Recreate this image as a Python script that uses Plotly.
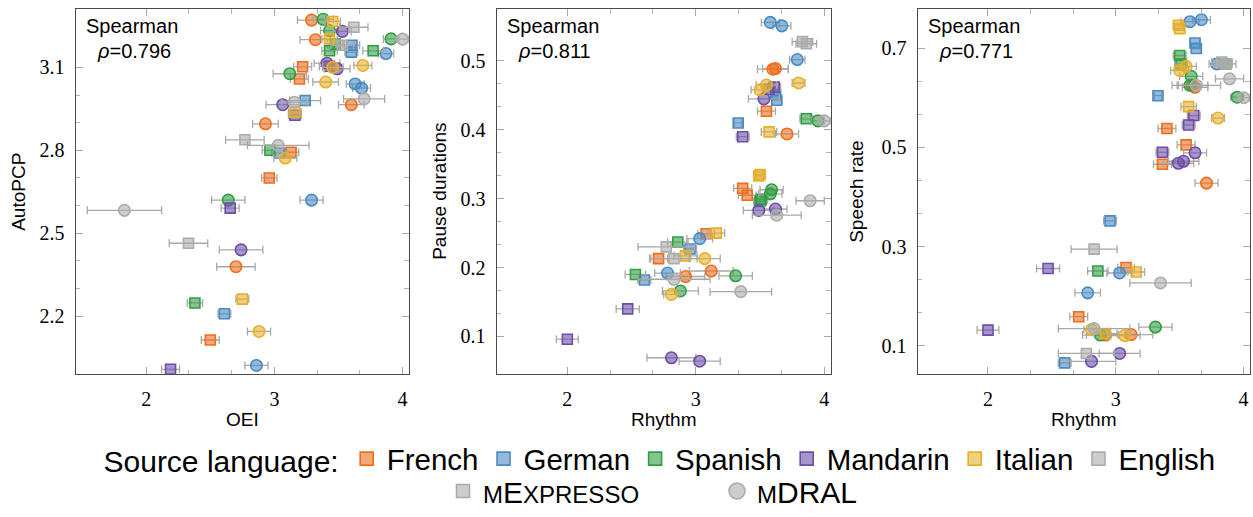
import plotly.graph_objects as go

# ---------------- data ----------------
LANGS = ["French", "German", "Spanish", "Mandarin", "Italian", "English"]
SETS = ["S", "C"]  # S = mExpresso (square), C = mDRAL (circle)

# Panel 1: OEI vs AutoPCP
p1_lang = ["French", "Spanish", "Italian", "English", "Spanish", "Mandarin", "French", "Italian",
           "Spanish", "English", "Spanish", "English", "German", "German", "Spanish", "Spanish",
           "German", "Mandarin", "Mandarin", "Italian", "Mandarin", "French", "Italian", "Spanish",
           "French", "Italian", "German", "German", "Mandarin", "English", "German", "English",
           "French", "Italian", "Mandarin", "French", "English", "English", "Spanish", "German",
           "French", "Italian", "French", "Spanish", "German", "English", "Mandarin", "English",
           "Mandarin", "French", "Spanish", "Italian", "German", "Italian", "French", "German",
           "Mandarin"]
p1_set = ["C", "C", "S", "S", "C", "C", "C", "S",
          "C", "C", "S", "S", "S", "S", "S", "S",
          "C", "C", "S", "C", "C", "S", "C", "C",
          "S", "C", "C", "C", "C", "C", "S", "C",
          "C", "S", "S", "C", "S", "C", "S", "S",
          "S", "C", "S", "C", "C", "C", "S", "S",
          "C", "C", "S", "S", "S", "C", "S", "C",
          "S"]
p1_oei = [3.29, 3.38, 3.455, 3.62, 3.43, 3.53, 3.32, 3.43,
          3.91, 4.00, 3.475, 3.53, 3.605, 3.60, 3.43, 3.77,
          3.87, 3.41, 3.43, 3.455, 3.49, 3.22, 3.69, 3.12,
          3.195, 3.40, 3.63, 3.68, 3.065, 3.155, 3.24, 3.70,
          3.60, 3.16, 3.16, 2.93, 2.77, 3.03, 2.965, 3.04,
          3.13, 3.085, 2.96, 2.64, 3.29, 1.83, 2.655, 2.33,
          2.74, 2.70, 2.38, 2.75, 2.61, 2.88, 2.50, 2.86,
          2.19]
p1_oei_err = [0.11, 0.08, 0.06, 0.11, 0.07, 0.07, 0.12, 0.06,
              0.06, 0.05, 0.06, 0.09, 0.06, 0.05, 0.06, 0.08,
              0.06, 0.10, 0.08, 0.08, 0.10, 0.07, 0.07, 0.13,
              0.07, 0.10, 0.07, 0.07, 0.13, 0.10, 0.12, 0.16,
              0.10, 0.05, 0.05, 0.10, 0.15, 0.24, 0.06, 0.06,
              0.06, 0.09, 0.06, 0.13, 0.09, 0.29, 0.07, 0.15,
              0.17, 0.15, 0.06, 0.05, 0.05, 0.09, 0.07, 0.09,
              0.07]
p1_autopcp = [3.271, 3.274, 3.266, 3.245, 3.233, 3.230, 3.200, 3.203,
              3.203, 3.202, 3.184, 3.180, 3.180, 3.155, 3.160, 3.160,
              3.150, 3.115, 3.104, 3.100, 3.095, 3.102, 3.107, 3.077,
              3.058, 3.047, 3.040, 3.025, 2.965, 2.974, 2.980, 2.986,
              2.965, 2.938, 2.927, 2.896, 2.838, 2.818, 2.800, 2.790,
              2.793, 2.772, 2.700, 2.620, 2.620, 2.583, 2.591, 2.464,
              2.440, 2.379, 2.248, 2.262, 2.209, 2.145, 2.114, 2.022,
              2.008]

# Panels 2 & 3: Rhythm vs Pause durations / Speech rate
r_lang = ["German", "German", "English", "English", "German", "French", "French", "Italian",
          "Italian", "Italian", "Mandarin", "Mandarin", "German", "German", "Mandarin", "French",
          "German", "Spanish", "Spanish", "English", "Mandarin", "Italian", "French", "Italian",
          "Italian", "French", "French", "Spanish", "Spanish", "Spanish", "Spanish", "English",
          "Mandarin", "Mandarin", "English", "French", "Italian", "German", "Spanish", "German",
          "English", "French", "English", "Italian", "Italian", "German", "French", "French",
          "Spanish", "English", "Spanish", "German", "Spanish", "Italian", "English", "Mandarin",
          "Mandarin", "Mandarin", "Mandarin"]
r_set = ["C", "C", "S", "S", "C", "C", "C", "C",
         "C", "C", "S", "S", "S", "S", "C", "S",
         "S", "S", "C", "C", "S", "S", "C", "S",
         "S", "S", "S", "C", "C", "S", "S", "C",
         "C", "C", "C", "S", "S", "C", "S", "S",
         "S", "S", "S", "S", "C", "C", "C", "C",
         "C", "C", "S", "S", "C", "C", "C", "S",
         "S", "C", "C"]
r_rhythm = [3.58, 3.67, 3.83, 3.86, 3.79, 3.60, 3.62, 3.80,
            3.55, 3.50, 3.57, 3.61, 3.62, 3.63, 3.53, 3.55,
            3.33, 3.86, 3.95, 4.00, 3.365, 3.57, 3.71, 3.49,
            3.50, 3.365, 3.40, 3.59, 3.58, 3.50, 3.51, 3.89,
            3.49, 3.62, 3.63, 3.08, 3.16, 3.03, 2.86, 2.955,
            2.77, 2.71, 2.83, 2.92, 3.07, 2.78, 2.92, 3.12,
            3.31, 2.83, 2.53, 2.60, 2.88, 2.81, 3.35, 2.47,
            2.00, 2.81, 3.03]
r_rhythm_err = [0.07, 0.07, 0.08, 0.08, 0.06, 0.12, 0.10, 0.05,
                0.08, 0.07, 0.05, 0.05, 0.04, 0.04, 0.12, 0.07,
                0.03, 0.05, 0.05, 0.05, 0.05, 0.06, 0.09, 0.04,
                0.04, 0.07, 0.07, 0.09, 0.09, 0.05, 0.05, 0.11,
                0.12, 0.09, 0.19, 0.065, 0.065, 0.10, 0.08, 0.05,
                0.22, 0.07, 0.18, 0.09, 0.12, 0.10, 0.15, 0.17,
                0.13, 0.28, 0.08, 0.05, 0.14, 0.06, 0.24, 0.09,
                0.085, 0.19, 0.16]
r_pause = [0.556, 0.551, 0.528, 0.525, 0.502, 0.488, 0.489, 0.468,
           0.465, 0.458, 0.459, 0.462, 0.452, 0.443, 0.445, 0.427,
           0.410, 0.416, 0.413, 0.413, 0.390, 0.397, 0.394, 0.333,
           0.335, 0.315, 0.305, 0.313, 0.307, 0.296, 0.299, 0.297,
           0.283, 0.285, 0.276, 0.249, 0.250, 0.242, 0.237, 0.227,
           0.230, 0.213, 0.213, 0.217, 0.213, 0.192, 0.187, 0.195,
           0.188, 0.183, 0.190, 0.182, 0.166, 0.161, 0.165, 0.140,
           0.096, 0.069, 0.064]
r_speech = [0.753, 0.757, 0.672, 0.668, 0.668, 0.625, 0.621, 0.559,
            0.663, 0.655, 0.545, 0.564, 0.710, 0.699, 0.472, 0.505,
            0.604, 0.668, 0.601, 0.600, 0.490, 0.582, 0.428, 0.746,
            0.739, 0.466, 0.538, 0.643, 0.625, 0.685, 0.668, 0.638,
            0.468, 0.489, 0.625, 0.258, 0.249, 0.247, 0.251, 0.352,
            0.085, 0.159, 0.295, 0.125, 0.121, 0.207, 0.122, 0.123,
            0.138, 0.135, None, 0.066, 0.122, 0.133, 0.227, 0.256,
            0.132, 0.069, 0.085]

spearman = ["0.796", "0.811", "0.771"]
x_titles = ["OEI", "Rhythm", "Rhythm"]
y_titles = ["AutoPCP", "Pause durations", "Speech rate"]

x_ticks = [2, 3, 4]
x_minor = [2 + 1/3, 2 + 2/3, 3 + 1/3, 3 + 2/3]
y_ticks = [[2.2, 2.5, 2.8, 3.1], [0.1, 0.2, 0.3, 0.4, 0.5], [0.1, 0.3, 0.5, 0.7]]
y_minor = [[2.3, 2.4, 2.6, 2.7, 2.9, 3.0],
           [0.1 + k * 0.1 / 3 for k in range(1, 12) if k % 3 != 0],
           [0.1 + k * 0.2 / 3 for k in range(1, 9) if k % 3 != 0]]

# ---------------- style ----------------
BASE = {"French": (237, 110, 28), "German": (74, 139, 196), "Spanish": (50, 158, 68),
        "Mandarin": (108, 78, 168), "Italian": (230, 176, 44), "English": (172, 172, 172)}

def line_col(l):
    r, g, b = BASE[l]
    return f"rgb({r},{g},{b})"

def fill_col(l):
    r, g, b = BASE[l]
    return f"rgba({r},{g},{b},0.6)"

SYMBOL = {"S": "square", "C": "circle"}
SIZE = {"S": 10, "C": 11.5}
ERRC = "rgb(168,168,168)"

W, H = 1253, 517
panels_px = [(75.7, 409.0), (496.7, 830.7), (917.7, 1250.0)]
top_px, bot_px = 9.3, 374.3
y_ranges = [[1.99, 3.31], [0.045, 0.575], [0.043, 0.778]]

fig = go.Figure()

datasets = [
    (p1_lang, p1_set, p1_oei, p1_oei_err, p1_autopcp),
    (r_lang, r_set, r_rhythm, r_rhythm_err, r_pause),
    (r_lang, r_set, r_rhythm, r_rhythm_err, r_speech),
]

for pi, (langs, sets, xs, xe, ys) in enumerate(datasets):
    ax = "" if pi == 0 else str(pi + 1)
    for l in LANGS:
        for s in SETS:
            idx = [i for i in range(len(xs)) if langs[i] == l and sets[i] == s and ys[i] is not None]
            if not idx:
                continue
            fig.add_trace(go.Scatter(
                x=[xs[i] for i in idx], y=[ys[i] for i in idx],
                mode="markers", showlegend=False, hoverinfo="skip",
                error_x=dict(type="data", array=[xe[i] for i in idx], color=ERRC,
                             thickness=1.3, width=4),
                marker=dict(symbol=SYMBOL[s], size=SIZE[s], color=fill_col(l),
                            line=dict(color=line_col(l), width=1.6)),
                xaxis="x" + ax, yaxis="y" + ax))

# legend entries
for l in LANGS:
    fig.add_trace(go.Scatter(x=[None], y=[None], mode="markers", name=l, legend="legend",
                             marker=dict(symbol="square", size=13, color=fill_col(l),
                                         line=dict(color=line_col(l), width=1.6))))
sc = 'style="font-size:24px"'
names2 = [f'<span {sc}>M</span>E<span {sc}>XPRESSO</span>', f'<span {sc}>M</span>DRAL']
for nm, s in zip(names2, ["square", "circle"]):
    fig.add_trace(go.Scatter(x=[None], y=[None], mode="markers", name=nm, legend="legend2",
                             marker=dict(symbol=s, size=13 if s == "square" else 16,
                                         color="rgba(172,172,172,0.6)",
                                         line=dict(color="rgb(172,172,172)", width=1.6))))

common = dict(showline=True, linecolor="#4a4a4a", linewidth=1.2, mirror="allticks",
              ticks="inside", ticklen=7, tickcolor="#a8a8a8", tickwidth=1.2,
              showgrid=False, zeroline=False,
              tickfont=dict(family="Liberation Serif", size=20, color="black"))

layout = dict(width=W, height=H, margin=dict(l=0, r=0, t=0, b=0, autoexpand=False),
              plot_bgcolor="white", paper_bgcolor="white",
              font=dict(family="Liberation Sans", color="black"))
annotations = []
for pi in range(3):
    ax = "" if pi == 0 else str(pi + 1)
    x0, x1 = panels_px[pi]
    layout["xaxis" + ax] = dict(common, domain=[x0 / W, x1 / W], range=[1.45, 4.05],
                                anchor="y" + ax, tickmode="array", tickvals=x_ticks,
                                ticklabelstandoff=7,
                                minor=dict(tickmode="array", tickvals=x_minor, ticks="inside",
                                           ticklen=4.5, tickcolor="#b4b4b4", tickwidth=1))
    layout["yaxis" + ax] = dict(common, domain=[1 - bot_px / H, 1 - top_px / H],
                                range=y_ranges[pi], anchor="x" + ax, tickmode="array",
                                tickvals=y_ticks[pi], ticklabelstandoff=6,
                                minor=dict(tickmode="array", tickvals=y_minor[pi], ticks="inside",
                                           ticklen=4.5, tickcolor="#b4b4b4", tickwidth=1))
    pw = x1 - x0
    annotations.append(dict(text="Spearman", xref="x" + ax + " domain", yref="y" + ax + " domain",
                            x=8.5 / pw, y=(bot_px - 26) / (bot_px - top_px), xanchor="left",
                            yanchor="middle", showarrow=False, font=dict(size=20)))
    annotations.append(dict(text="<i>ρ</i>=" + spearman[pi], xref="x" + ax + " domain",
                            yref="y" + ax + " domain", x=19 / pw,
                            y=(bot_px - 51) / (bot_px - top_px), xanchor="left",
                            yanchor="middle", showarrow=False, font=dict(size=20)))
    annotations.append(dict(text=x_titles[pi], xref="x" + ax + " domain", yref="paper",
                            x=0.5, y=1 - 419 / H, xanchor="center", yanchor="middle",
                            showarrow=False, font=dict(size=19)))
    ytx = [19, 440, 857][pi]
    annotations.append(dict(text=y_titles[pi], xref="paper", yref="y" + ax + " domain",
                            x=ytx / W, y=0.5, xanchor="center", yanchor="middle",
                            textangle=-90, showarrow=False, font=dict(size=19)))

layout["annotations"] = annotations
layout["legend"] = dict(orientation="h", x=661 / W, xanchor="center", y=1 - 459 / H,
                        yanchor="middle", title=dict(text="Source language:", font=dict(size=30)),
                        font=dict(size=29.5), bgcolor="rgba(0,0,0,0)", itemwidth=30,
                        itemclick=False, itemdoubleclick=False)
layout["legend2"] = dict(orientation="h", x=717 / W, xanchor="center", y=0,
                         yanchor="bottom", font=dict(size=30), bgcolor="rgba(0,0,0,0)",
                         entrywidth=229, itemwidth=30, itemclick=False, itemdoubleclick=False)
fig.update_layout(**layout)
fig.write_html("out.html")
